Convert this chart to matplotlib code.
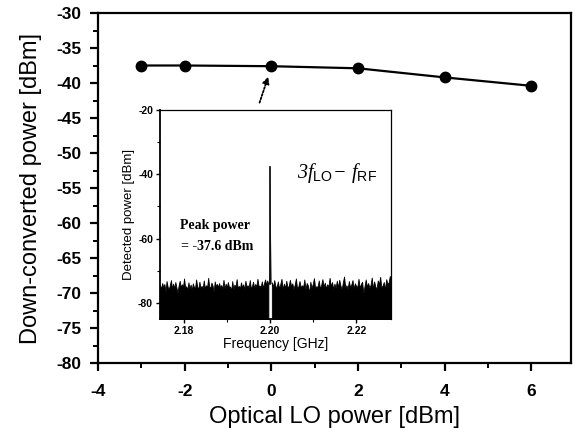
import matplotlib
matplotlib.use("Agg")
import matplotlib.pyplot as plt
from matplotlib.ticker import MultipleLocator, FormatStrFormatter
import numpy as np

# ---- main data ----
lo_power = [-3, -2, 0, 2, 4, 6]
down_power = [-37.5, -37.5, -37.6, -37.9, -39.2, -40.4]

# ---- inset spectrum data ----
noise_left = [-74.5,-75.6,-73.8,-75.2,-74.1,-76.3,-73.2,-75.0,-75.8,-74.4,-72.9,-75.6,-74.0,-75.5,-73.5,-75.2,-76.8,-74.6,-73.1,-75.1,
              -74.2,-75.0,-72.4,-75.3,-74.8,-75.9,-73.6,-75.5,-74.3,-76.0,-73.9,-75.1,-75.4,-72.7,-74.9,-75.7,-73.4,-75.3,-74.7,-75.4,
              -73.0,-75.6,-74.5,-75.2,-72.2,-75.0,-75.2,-73.7,-74.6,-76.5,-73.3,-74.8,-74.1,-75.1,-73.8,-75.3,-74.4,-75.7,-72.8,-75.6,
              -74.0,-75.3,-73.5,-75.1,-74.9,-76.2,-73.2,-75.7,-74.3,-75.0,-72.6,-75.4,-74.7,-75.5,-73.6,-75.2,-74.2,-75.8,-73.1,-74.9,
              -74.5,-75.2,-72.9,-75.5,-74.8,-73.4,-75.4,-74.1,-75.0,-72.5,-74.7,-74.6,-75.1,-73.3,-75.3,-73.9,-72.7,-74.4,-73.0,-74.2]
noise_right = [-73.6,-75.0,-72.9,-74.8,-75.1,-73.3,-75.5,-74.2,-72.5,-75.8,-74.0,-75.4,-73.1,-75.2,-74.7,-72.8,-74.9,-73.9,-75.7,-74.3,
               -72.4,-75.6,-74.9,-73.2,-75.2,-74.5,-75.1,-72.7,-75.7,-73.8,-74.6,-77.0,-73.4,-75.3,-74.1,-72.3,-75.4,-74.8,-75.0,-73.0,
               -75.6,-74.4,-72.6,-74.9,-73.7,-75.5,-74.2,-75.0,-72.2,-74.9,-73.5,-75.7,-74.0,-75.3,-73.1,-75.2,-72.8,-74.6,-75.8,-73.6,
               -71.8,-75.3,-74.5,-75.6,-73.2,-75.1,-74.3,-72.9,-75.5,-73.9,-74.7,-75.1,-72.5,-75.4,-74.1,-73.4,-76.9,-74.8,-72.7,-75.0,
               -73.8,-75.2,-74.4,-72.1,-75.6,-73.3,-74.9,-75.7,-73.0,-74.2,-71.9,-75.2,-74.6,-73.5,-75.8,-72.6,-74.0,-73.7,-71.6,-74.5]
freq_start, freq_gap_lo, freq_gap_hi, freq_end = 2.1745, 2.1996, 2.2004, 2.2280
peak_freq = [2.1997, 2.1999, 2.2000, 2.2001, 2.2003]
peak_level = [-74.0, -60.0, -37.6, -60.0, -74.0]

plt.rcParams['font.family'] = ['Liberation Sans', 'DejaVu Sans']
plt.rcParams['font.weight'] = 'bold'
plt.rcParams['axes.unicode_minus'] = False
plt.rcParams['mathtext.fontset'] = 'custom'
plt.rcParams['mathtext.rm'] = 'Liberation Serif:italic:normal'
plt.rcParams['mathtext.sf'] = 'Liberation Sans:normal'
plt.rcParams['mathtext.it'] = 'Liberation Serif:italic:normal'
plt.rcParams['mathtext.bf'] = 'Liberation Sans:bold'

fig = plt.figure(figsize=(5.78, 4.38), dpi=100)
W, H = 578, 438

def rect(l, r, t, b):
    return [l / W, (H - b) / H, (r - l) / W, (b - t) / H]

ax = fig.add_axes(rect(98, 571, 13, 363))
ax.plot(lo_power, down_power, color='black', lw=1.6, marker='o', ms=7.5, zorder=3)
ax.set_xlim(-4, 6.92)
ax.set_ylim(-80, -30)
ax.xaxis.set_major_locator(MultipleLocator(2))
ax.xaxis.set_minor_locator(MultipleLocator(1))
ax.yaxis.set_major_locator(MultipleLocator(5))
ax.yaxis.set_minor_locator(MultipleLocator(2.5))
ax.tick_params(which='major', direction='out', length=6, width=1.6, labelsize=12.5, pad=6)
ax.tick_params(axis='x', which='major', pad=9)
ax.tick_params(which='minor', direction='out', length=3.5, width=1.4)
for s in ax.spines.values():
    s.set_linewidth(1.6)
ax.set_xlabel('Optical LO power [dBm]', fontsize=17, fontweight='normal', labelpad=5)
ax.set_ylabel('Down-converted power [dBm]', fontsize=17, fontweight='normal', labelpad=10)

ax.annotate('', xy=(-0.07, -39.1), xytext=(-0.27, -42.8),
            arrowprops=dict(arrowstyle='-|>', linestyle=(0, (1, 1)), color='black',
                            lw=1.3, mutation_scale=10, shrinkA=0, shrinkB=0))

# ---- inset ----
ins = fig.add_axes(rect(160, 391, 110, 319))
nl = len(noise_left)
nr = len(noise_right)
fl = np.linspace(freq_start, freq_gap_lo, nl)
fr = np.linspace(freq_gap_hi, freq_end, nr)
ins.fill_between(fl, -90, noise_left, color='black', lw=0.6, edgecolor='black')
ins.fill_between(fr, -90, noise_right, color='black', lw=0.6, edgecolor='black')
ins.fill_between(peak_freq, -74, peak_level, color='#555555', lw=0)
ins.plot([peak_freq[2], peak_freq[2]], [-74, peak_level[2]], color='black', lw=1.2)
ins.set_xlim(freq_start, freq_end)
ins.set_ylim(-85, -20)
ins.xaxis.set_major_locator(MultipleLocator(0.02))
ins.xaxis.set_minor_locator(MultipleLocator(0.01))
ins.yaxis.set_major_locator(MultipleLocator(20))
ins.yaxis.set_minor_locator(MultipleLocator(10))
ins.xaxis.set_major_formatter(FormatStrFormatter('%.2f'))
ins.tick_params(which='major', direction='out', length=3, width=1.0, labelsize=7.5, pad=2)
ins.tick_params(which='minor', direction='out', length=2, width=0.8)
ins.spines['left'].set_linewidth(1.3)
ins.spines['bottom'].set_linewidth(1.3)
ins.spines['top'].set_linewidth(0.9)
ins.spines['right'].set_linewidth(0.9)
ins.set_xlabel('Frequency [GHz]', fontsize=10, fontweight='normal', labelpad=1)
ins.set_ylabel('Detected power [dBm]', fontsize=9.5, fontweight='normal', labelpad=2)

ins.text(0.595, 0.70, r'$3f_{\mathsf{LO}}\!-\,f_{\mathsf{RF}}$',
         transform=ins.transAxes, fontsize=14.5, fontweight='normal', ha='left', va='center')
ins.text(0.085, 0.445, 'Peak power', transform=ins.transAxes, fontsize=10,
         fontweight='bold', family='Liberation Serif', ha='left', va='center')
ins.text(0.09, 0.345, '= -37.6 dBm', transform=ins.transAxes, fontsize=10,
         fontweight='bold', family='Liberation Serif', ha='left', va='center')

fig.savefig('out.png', dpi=100)
